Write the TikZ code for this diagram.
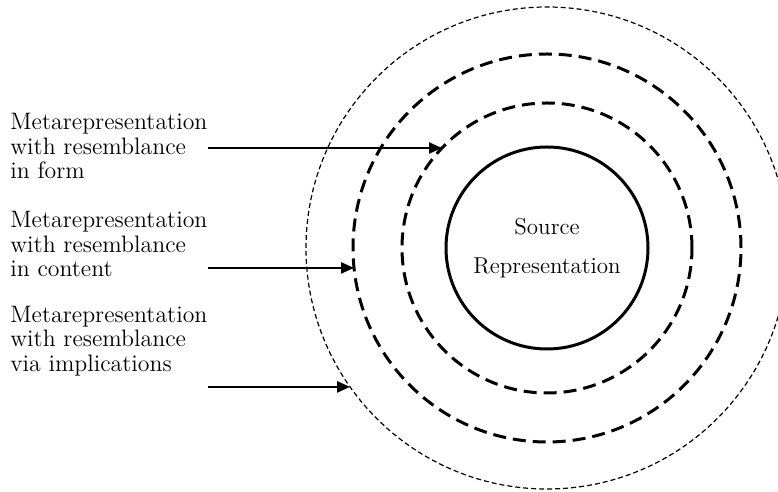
\documentclass[tikz,border=0pt]{standalone}
\usepackage{tikz}
\usetikzlibrary{shapes, arrows.meta, positioning, calc}

\begin{document}
\begin{tikzpicture}[
        x=0.5pt, y=0.5pt,
        lbl/.style={
            anchor=west, align=left, inner sep=0pt,
            font=\fontsize{11.9}{12.3}\selectfont
        },
        srcbox/.style={
            circle, draw=black, line width=1.5pt, outer sep=0pt,
            minimum size=101pt, align=center,
            font=\fontsize{11.5}{19.5}\selectfont
        },
        ring/.style={
            circle, draw=black, line width=1.5pt, outer sep=0pt,
            dash pattern=on 6.5pt off 3.5pt
        },
        thinring/.style={
            circle, draw=black, line width=0.6pt, outer sep=0pt,
            dash pattern=on 2.5pt off 1.5pt
        },
        arr/.style={-{Triangle[length=6.5pt, width=5.5pt]}, line width=1.2pt}
    ]
        \useasboundingbox (0,0) rectangle (778,492);

        \node[srcbox] (src) at (547,244) {Source\\Representation};
        \node[ring, minimum size=145pt] (formring) at (src.center) {};
        \node[ring, minimum size=194pt] (contring) at (src.center) {};
        \node[thinring, minimum size=241pt] (implring) at (src.center) {};

        \node[lbl] (formlbl) at (10,346) {Metarepresentation\\with resemblance\\in form};
        \node[lbl] (contlbl) at (10,248) {Metarepresentation\\with resemblance\\in content};
        \node[lbl] (impllbl) at (10,151) {Metarepresentation\\with resemblance\\via implications};

        % arrow tips sit on the rings
        \coordinate (formtip) at ($(src.center)+(136.4:145)$);
        \coordinate (conttip) at ($(src.center)+(185.9:194)$);
        \coordinate (impltip) at ($(src.center)+(215.2:241)$);
        \coordinate (startx) at (208,0);

        \draw[arr] (formtip -| startx) -- (formtip);
        \draw[arr] (conttip -| startx) -- (conttip);
        \draw[arr] (impltip -| startx) -- (impltip);
    \end{tikzpicture}
\end{document}
